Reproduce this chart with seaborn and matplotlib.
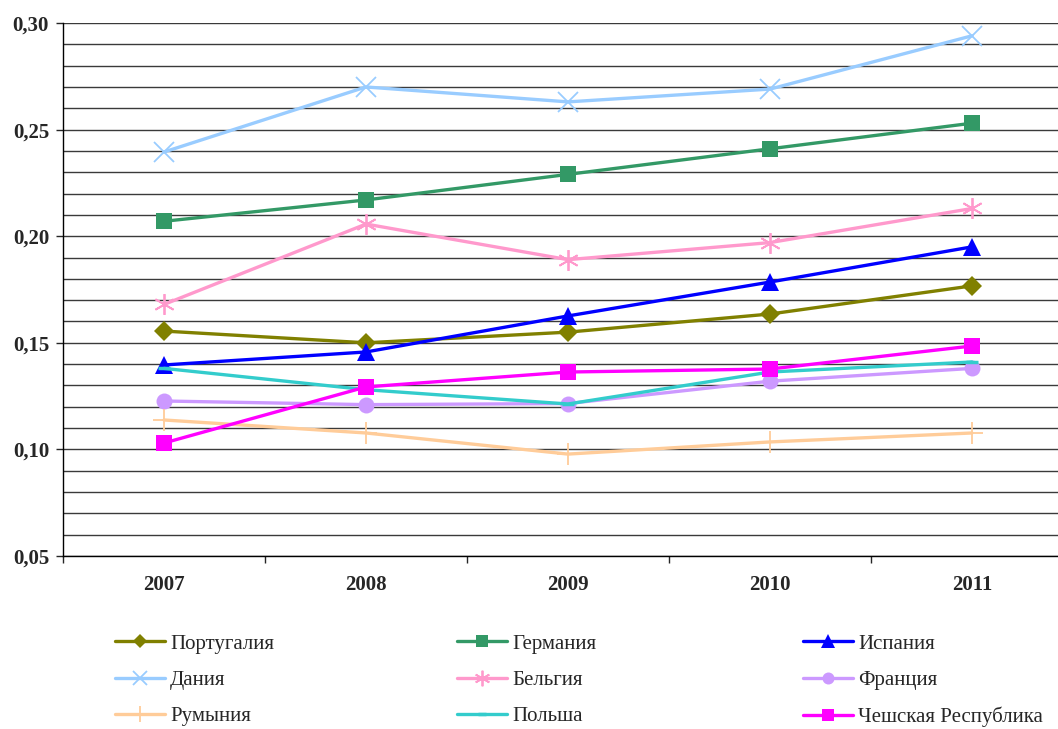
import matplotlib

matplotlib.use("Agg")

import matplotlib.pyplot as plt
import numpy as np
import pandas as pd
import seaborn as sns
from matplotlib.ticker import FixedLocator, FuncFormatter, MultipleLocator

years = [2007, 2008, 2009, 2010, 2011]

portugal = [0.1555, 0.150, 0.155, 0.1635, 0.1767]
germany = [0.207, 0.217, 0.229, 0.241, 0.253]
spain = [0.1396, 0.1457, 0.1626, 0.1785, 0.195]
denmark = [0.2395, 0.270, 0.263, 0.269, 0.294]
belgium = [0.168, 0.2057, 0.189, 0.197, 0.213]
france = [0.1227, 0.121, 0.1215, 0.132, 0.138]
romania = [0.1138, 0.1077, 0.0978, 0.1035, 0.1077]
poland = [0.138, 0.128, 0.1213, 0.1363, 0.141]
czech = [0.103, 0.1293, 0.1363, 0.1377, 0.1485]

names = ["Португалия", "Германия", "Испания", "Дания", "Бельгия", "Франция",
         "Румыния", "Польша", "Чешская Республика"]
series = [portugal, germany, spain, denmark, belgium, france, romania, poland, czech]

styles = {
    "Португалия": dict(color="#808000", marker="D", markersize=10),
    "Германия": dict(color="#339966", marker="s", markersize=11.5),
    "Испания": dict(color="#0000FF", marker="^", markersize=12.5),
    "Дания": dict(color="#99CCFF", marker="x", markersize=14, markeredgewidth=1.3),
    "Бельгия": dict(color="#FF99CC", marker=(6, 2, 0), markersize=15, markeredgewidth=1.3),
    "Франция": dict(color="#CC99FF", marker="o", markersize=11.5),
    "Румыния": dict(color="#FFCC99", marker="+", markersize=16, markeredgewidth=1.3),
    "Польша": dict(color="#33CCCC", marker="_", markersize=8, markeredgewidth=2.5),
    "Чешская Республика": dict(color="#FF00FF", marker="s", markersize=11.5),
}

df = pd.DataFrame({name: vals for name, vals in zip(names, series)}, index=years)

sns.set_style("white")
plt.rcParams["font.family"] = ["Liberation Serif", "DejaVu Serif"]

fig = plt.figure(figsize=(10.58, 7.29), dpi=100)
ax = fig.add_axes([63 / 1058, 1 - 556 / 729, 1010 / 1058, 533 / 729])

for name in names:
    st = styles[name]
    sns.lineplot(x=df.index, y=df[name], ax=ax, color=st["color"], linewidth=2.4,
                 marker=st["marker"], markersize=st["markersize"],
                 markeredgewidth=st.get("markeredgewidth", 0),
                 markeredgecolor=st["color"], markerfacecolor=st["color"], legend=False)

ax.set_xlim(2006.5, 2011.5)
ax.set_ylim(0.05, 0.30)
ax.set_xlabel("")
ax.set_ylabel("")

ax.yaxis.set_major_locator(MultipleLocator(0.05))
ax.yaxis.set_minor_locator(MultipleLocator(0.01))
ax.yaxis.set_major_formatter(FuncFormatter(lambda v, p: f"{v:.2f}".replace(".", ",")))
ax.grid(True, axis="y", which="both", color="#3a3a3a", linewidth=1.0)
ax.set_axisbelow(True)

ax.xaxis.set_major_locator(FixedLocator([2006.5, 2007.5, 2008.5, 2009.5, 2010.5, 2011.5]))
ax.xaxis.set_major_formatter(FuncFormatter(lambda v, p: ""))
ax.xaxis.set_minor_locator(FixedLocator(years))
ax.xaxis.set_minor_formatter(FuncFormatter(lambda v, p: f"{int(round(v))}"))
ax.tick_params(axis="x", which="major", length=5, width=1, direction="out", bottom=True)
ax.tick_params(axis="x", which="minor", length=0, pad=14, labelsize=15)
ax.tick_params(axis="y", which="major", length=5, width=1, direction="out", left=True,
               labelsize=15, pad=5)
ax.tick_params(axis="y", which="minor", length=0)
for lab in ax.get_xticklabels(minor=True) + ax.get_yticklabels():
    lab.set_fontweight("bold")

for side in ["top", "right"]:
    ax.spines[side].set_visible(False)
for side in ["left", "bottom"]:
    ax.spines[side].set_color("black")
    ax.spines[side].set_linewidth(1.0)

col_x = [115 / 1058, 457 / 1058, 803 / 1058]
cols = [["Португалия", "Дания", "Румыния"],
        ["Германия", "Бельгия", "Польша"],
        ["Испания", "Франция", "Чешская Республика"]]
for x0, col in zip(col_x, cols):
    hs = []
    for name in col:
        st = styles[name]
        h = plt.Line2D([], [], color=st["color"], linewidth=2.4, marker=st["marker"],
                       markersize=st["markersize"] * 0.75,
                       markeredgewidth=st.get("markeredgewidth", 0),
                       markerfacecolor=st["color"], markeredgecolor=st["color"])
        hs.append(h)
    fig.legend(hs, col, loc="upper left", bbox_to_anchor=(x0, 1 - 634 / 729),
               frameon=False, fontsize=15, handlelength=2.4, handletextpad=0.25,
               labelspacing=0.8, borderaxespad=0, borderpad=0)

fig.savefig("out.png", dpi=100, facecolor="white")
